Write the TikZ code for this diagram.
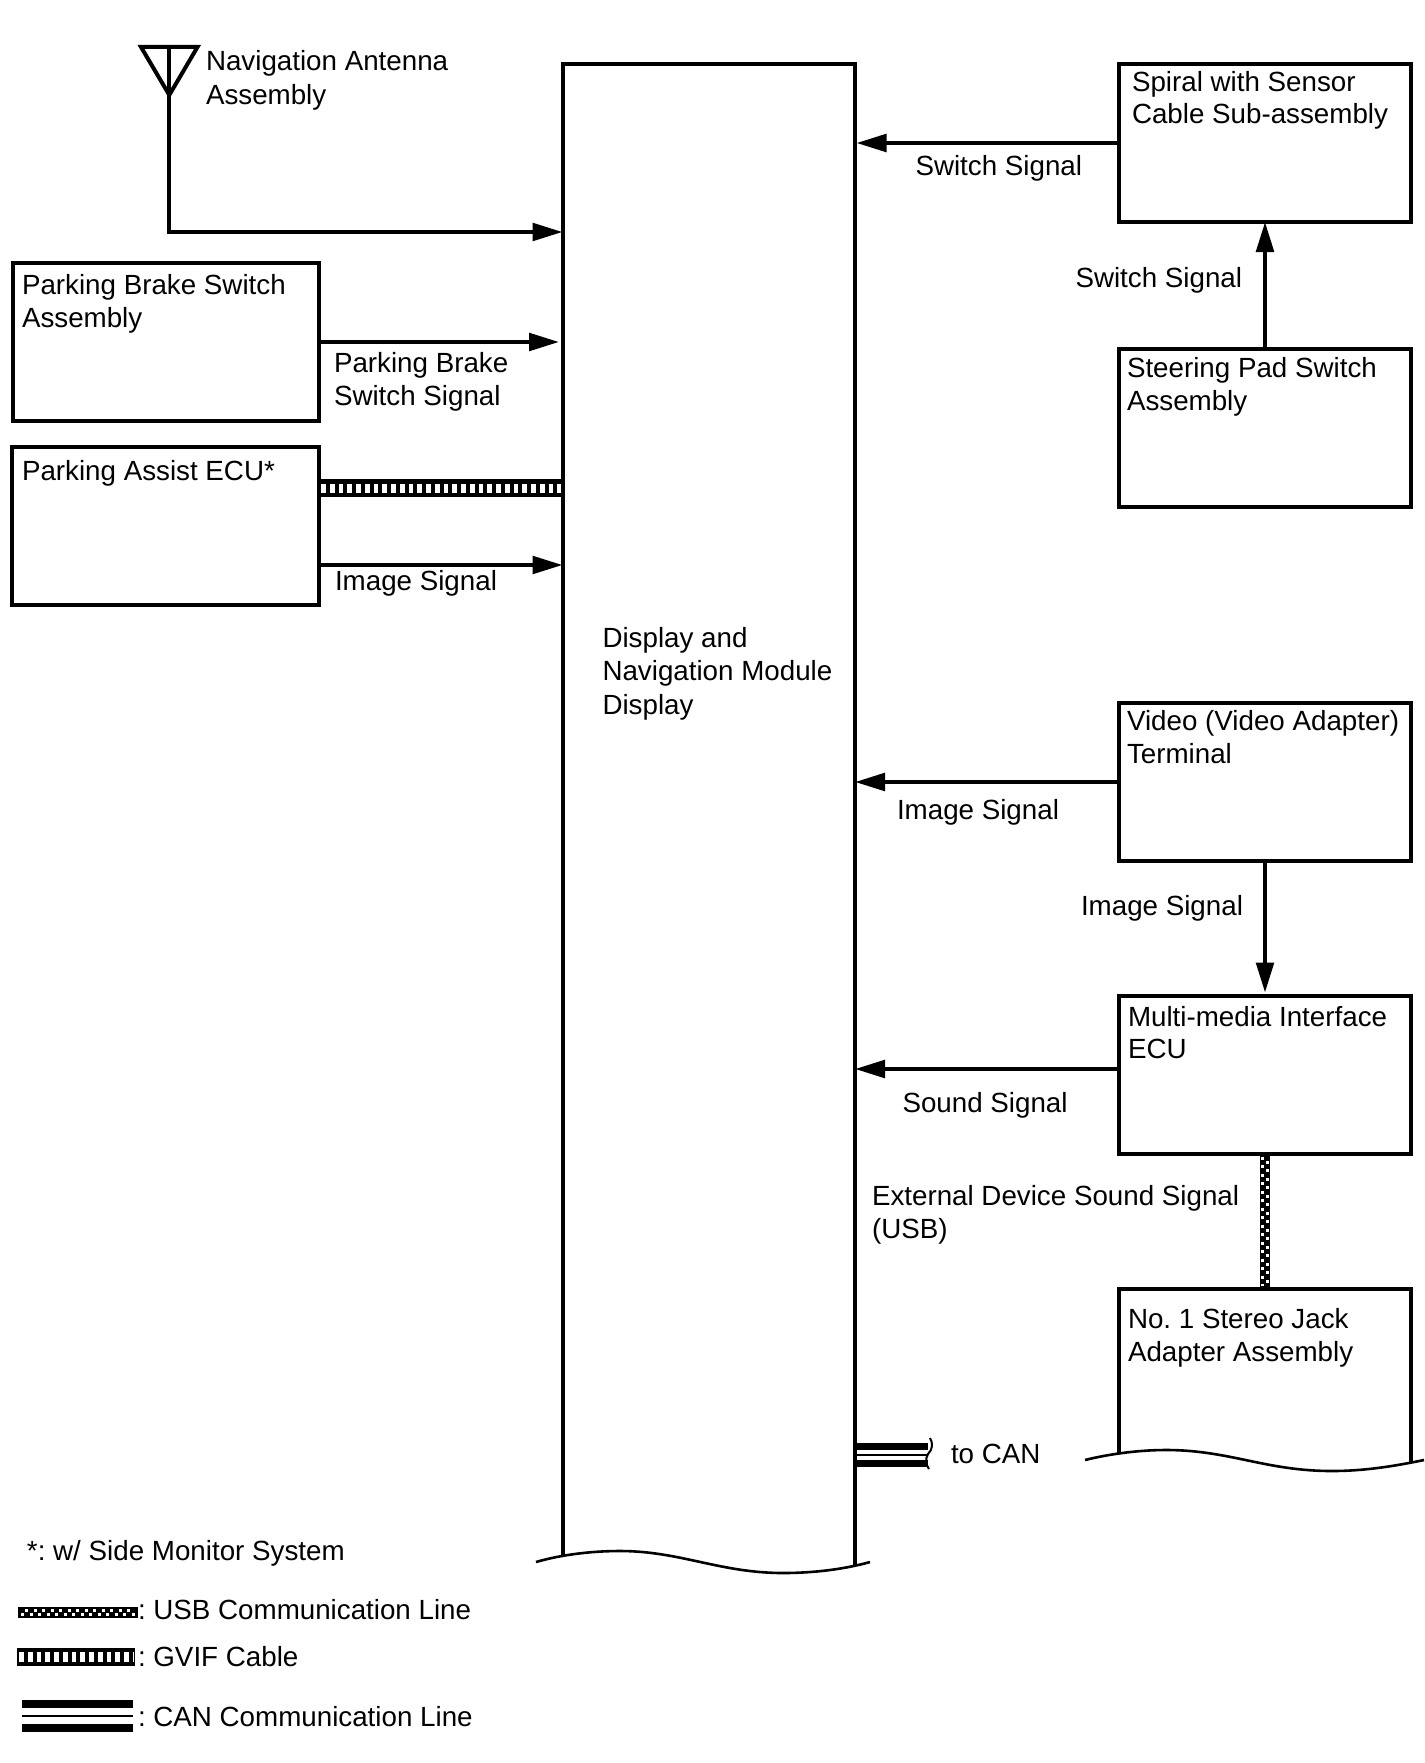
\documentclass[tikz,border=0pt]{standalone}
\usepackage{fontspec}
\setmainfont{Liberation Sans}
\usetikzlibrary{arrows.meta}
\tikzset{
  unit/.style={draw,line width=4pt,inner sep=0pt,outer sep=0pt,minimum width=292pt,minimum height=158pt},
  lbl/.style={anchor=base west,inner sep=0pt,outer sep=0pt,align=left,xshift=1pt,yshift=-.5pt,font=\fontsize{27.75}{33}\selectfont\frenchspacing},
  sig/.style={line width=4pt,-{Triangle[length=30pt,width=17.5pt]}},
  wave/.style={line width=2.6pt},
  gvifbase/.style={line width=18pt},
  gvifgap/.style={white,line width=9.6pt,dash pattern=on 4.8pt off 3.95pt},
  usbbase/.style={line width=10.8pt},
  usbspeck/.style={white,line width=3pt,dash pattern=on 3pt off 5.5pt}
}
\begin{document}
\begin{tikzpicture}[x=1pt,y=-1pt]
\useasboundingbox (0,0) rectangle (1424,1763);
% units
\node[minimum width=292.5pt,minimum height=1491pt,inner sep=0pt,outer sep=0pt] (disp) at (708.75,809.5) {};
\node[unit,minimum width=306.5pt] (brake) at (165.75,342) {};
\node[unit,minimum width=307pt] (assist) at (165.5,526) {};
\node[unit] (spiral) at (1265,143) {};
\node[unit] (steering) at (1265,428) {};
\node[unit] (video) at (1265,782) {};
\node[unit] (mmecu) at (1265,1074.5) {};
\coordinate (jack) at (1265,1289);
\coordinate (antfoot) at (169,232);
\coordinate (anttop) at (169,47);
\coordinate (canend) at (928,1455);
% display box, open at the bottom
\draw[line width=4pt] (disp.south west) -- (disp.north west) -- (disp.north east) -- (disp.south east) -- ++(0,10);
\draw[wave] (536,1562) .. controls (560,1555) and (590,1551) .. (620,1551) .. controls (680,1551) and (720,1573) .. (783,1573) .. controls (815,1573) and (845,1569) .. (870,1562);
% jack box, open at the bottom
\draw[line width=4pt] (1119,1453) |- (jack) -| (1411,1462);
\draw[wave] (1085,1460) .. controls (1105,1455) and (1135,1450) .. (1166,1450) .. controls (1230,1450) and (1265,1471) .. (1332,1471) .. controls (1365,1471) and (1395,1466) .. (1424,1460);
% antenna
\draw[line width=4pt] (141,47) -- (197.5,47) -- (169.3,95) -- cycle;
\draw[sig] (anttop) -- (antfoot) -- (antfoot -| disp.west);
% signals
\draw[sig,shorten >=3.5pt] (brake.east) -- (brake.east -| disp.west);
\draw[sig] ([yshift=-39pt]assist.east) -- ([yshift=-39pt]assist.east -| disp.west);
\draw[sig,shorten >=1.5pt] (spiral.west) -- (spiral.west -| disp.east);
\draw[sig] (steering.north) -- (spiral.south);
\draw[sig] (video.west) -- (video.west -| disp.east);
\draw[sig,shorten >=3pt] (video.south) -- (mmecu.north);
\draw[sig] ([yshift=5.5pt]mmecu.west) -- ([yshift=5.5pt]mmecu.west -| disp.east);
% gvif
\draw[gvifbase,shorten <=2pt] ([yshift=37.7pt]assist.east) -- ([yshift=37.7pt]assist.east -| disp.west);
\draw[gvifgap,shorten <=2pt,shorten >=2pt] ([yshift=37.7pt]assist.east) -- ([yshift=37.7pt]assist.east -| disp.west);
% usb
\draw[usbbase,shorten <=2pt,shorten >=2pt] (mmecu.south) -- (jack);
\foreach \off/\ph in {-2.4/0,2.4/4.2}
  \draw[usbspeck,dash phase=\ph pt,transform canvas={xshift=\off pt},shorten <=3pt,shorten >=3pt] (mmecu.south) -- (jack);
% can
\foreach \off/\wd in {8.4/7.2,0/1.8,-8.3/7.6}
  \draw[line width=\wd pt,transform canvas={yshift=\off pt}] (canend -| disp.east) -- (canend);
\draw[line width=2pt] (930,1438) .. controls (933,1443) and (933,1449) .. (928,1454) .. controls (925,1459) and (926,1465) .. (929,1469);
% texts
\node[lbl] (anttxt) at (205,70) {Navigation Antenna};
\node[lbl] (anttxtb) at (205,104) {Assembly};
\node[lbl] (braketxt) at (21,294) {Parking Brake Switch};
\node[lbl] (braketxtb) at (21,327) {Assembly};
\node[lbl] (brakesig) at (333,371.5) {Parking Brake};
\node[lbl] (brakesigb) at (333,404.5) {Switch Signal};
\node[lbl] (assisttxt) at (21,480) {Parking Assist ECU*};
\node[lbl] (assistsig) at (334,590) {Image Signal};
\node[lbl] (disptxt) at (601.5,647) {Display and};
\node[lbl] (disptxtb) at (601.5,680) {Navigation Module};
\node[lbl] (disptxtc) at (601.5,714) {Display};
\node[lbl] (spiraltxt) at (1131,91) {Spiral with Sensor};
\node[lbl] (spiraltxtb) at (1131,123.5) {Cable Sub-assembly};
\node[lbl] (spiralsig) at (914.5,175) {Switch Signal};
\node[lbl] (steersig) at (1074.5,287) {Switch Signal};
\node[lbl] (steertxt) at (1126,377) {Steering Pad Switch};
\node[lbl] (steertxtb) at (1126,410) {Assembly};
\node[lbl] (videotxt) at (1126,730) {Video (Video Adapter)};
\node[lbl] (videotxtb) at (1126,763) {Terminal};
\node[lbl] (videosig) at (896,819) {Image Signal};
\node[lbl] (videosigb) at (1080,915) {Image Signal};
\node[lbl] (mmtxt) at (1127,1026) {Multi-media Interface};
\node[lbl] (mmtxtb) at (1127,1058) {ECU};
\node[lbl] (mmsig) at (901.5,1112) {Sound Signal};
\node[lbl] (usbtxt) at (871,1205) {External Device Sound Signal};
\node[lbl] (usbtxtb) at (871,1238) {(USB)};
\node[lbl] (jacktxt) at (1127,1328) {No. 1 Stereo Jack};
\node[lbl] (jacktxtb) at (1127,1361) {Adapter Assembly};
\node[lbl] (cantxt) at (950,1463) {to CAN};
% legend
\coordinate (usba) at (18,1612.5);
\coordinate (usbb) at (138,1612.5);
\coordinate (gvifa) at (17,1656.8);
\coordinate (gvifb) at (135,1656.8);
\coordinate (cana) at (22,1716);
\coordinate (canb) at (133,1716);
\draw[usbbase] (usba) -- (usbb);
\foreach \off/\ph in {-2.4/0,2.4/4.2}
  \draw[usbspeck,dash phase=\ph pt,transform canvas={yshift=\off pt},shorten <=3pt,shorten >=3pt] (usba) -- (usbb);
\draw[gvifbase] (gvifa) -- (gvifb);
\draw[gvifgap,shorten <=2pt,shorten >=2pt] (gvifa) -- (gvifb);
\foreach \off/\wd in {12/7.8,0/2.3,-12/7.6}
  \draw[line width=\wd pt,transform canvas={yshift=\off pt}] (cana) -- (canb);
\node[lbl] (sidetxt) at (26,1560) {*: w/ Side Monitor System};
\node[lbl] (usbkey) at (137,1619) {: USB Communication Line};
\node[lbl] (gvifkey) at (137,1666) {: GVIF Cable};
\node[lbl] (cankey) at (137,1726) {: CAN Communication Line};
\end{tikzpicture}
\end{document}
